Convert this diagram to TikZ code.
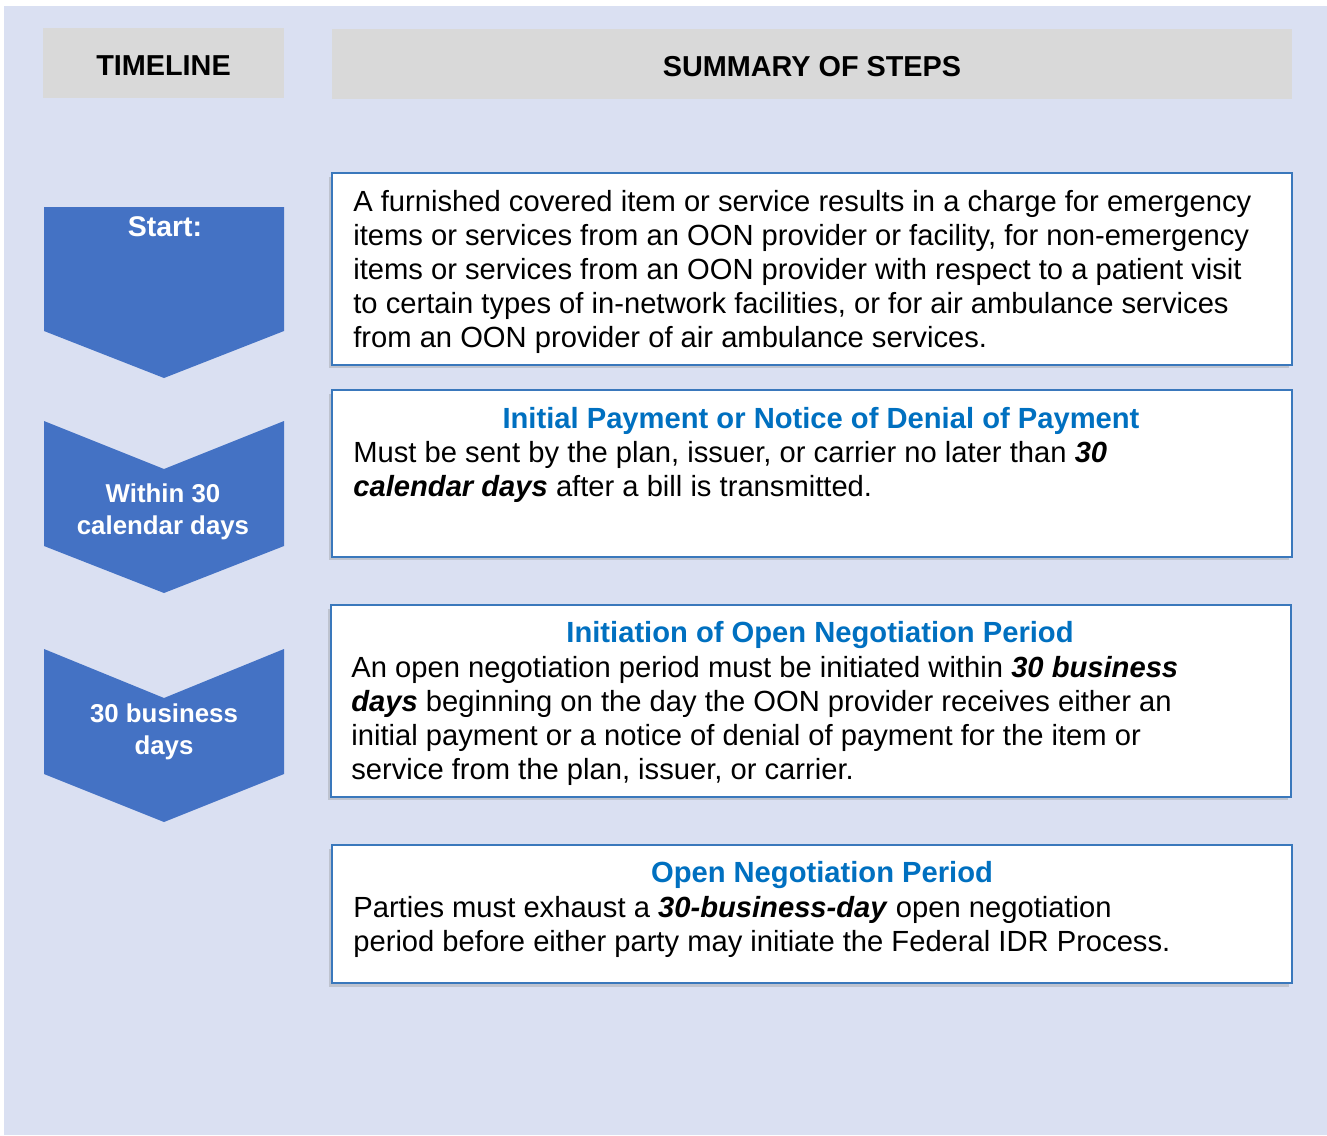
\documentclass[tikz,border=0pt]{standalone}
\usepackage{fontspec}
\setmainfont{Liberation Sans}
\usepackage{xcolor}
\usetikzlibrary{positioning,shadows}

\definecolor{bgblue}{HTML}{DAE0F2}
\definecolor{hdrgray}{HTML}{D9D9D9}
\definecolor{chevblue}{HTML}{4472C4}
\definecolor{boxline}{HTML}{3A78BC}
\definecolor{titleblue}{HTML}{0070C0}

\begin{document}
\begin{tikzpicture}[
    x=0.02cm, y=-0.02cm,
    hdr/.style={rectangle, fill=hdrgray, minimum height=1.4cm, inner sep=0pt,
        text height=0.51cm, text depth=0pt,
        font=\fontsize{16.4}{19}\selectfont\bfseries},
    stepbox/.style={rectangle, draw=boxline, line width=1.1pt, fill=white,
        minimum width=19.2cm, inner sep=0pt,
        drop shadow={shadow xshift=-0.06cm, shadow yshift=-0.07cm, opacity=0.3}},
    chev/.style={fill=chevblue},
    chevtext/.style={align=center, text=white, inner sep=0pt,
        font=\fontsize{14.7}{18.2}\selectfont\bfseries},
    steptitle/.style={text=titleblue, inner sep=0pt,
        font=\fontsize{16.6}{19.4}\selectfont\bfseries},
    stepbody/.style={anchor=west, align=left, inner sep=0pt,
        font=\fontsize{16.6}{19.4}\selectfont}
]
\useasboundingbox (0,0) rectangle (1327,1135);
\fill[bgblue] (4,6) rectangle (1327,1135);

% Headers
\node[hdr, minimum width=4.82cm] (timeline) at (163.5,63) {TIMELINE};
\node[hdr, minimum width=19.2cm] (summary) at (812,64) {SUMMARY OF STEPS};

% Timeline chevrons
\fill[chev] (44,207) -- (284,207) -- (284,331) -- (164,378) -- (44,331) -- cycle;
\node[chevtext, font=\fontsize{16.2}{19}\selectfont\bfseries] (start) at (165,227) {Start:};

\fill[chev] (44,421) -- (164,469) -- (284,421) -- (284,546) -- (164,593) -- (44,546) -- cycle;
\node[chevtext] (within) at (163,512) {Within 30\\calendar days};

\fill[chev] (44,649) -- (164,698) -- (284,649) -- (284,774) -- (164,822) -- (44,774) -- cycle;
\node[chevtext] (business) at (164,732) {30 business\\days};

% Step boxes
\node[stepbox, minimum height=3.84cm] (box1) at (812,269) {};
\node[stepbox, minimum height=3.34cm] (box2) at (812,473.5) {};
\node[stepbox, minimum height=3.84cm] (box3) at (811,701) {};
\node[stepbox, minimum height=2.76cm] (box4) at (812,914) {};

% Step 1
\node[stepbody] (body1) at (353,272) {A furnished covered item or service results in a charge for emergency\\
items or services from an OON provider or facility, for non-emergency\\
items or services from an OON provider with respect to a patient visit\\
to certain types of in-network facilities, or for air ambulance services\\
from an OON provider of air ambulance services.};

% Step 2
\node[steptitle] (title2) at (821,421) {Initial Payment or Notice of Denial of Payment};
\node[stepbody] (body2) at (353,472) {Must be sent by the plan, issuer, or carrier no later than \textbf{\textit{30}}\\
\textbf{\textit{calendar days}} after a bill is transmitted.};

% Step 3
\node[steptitle] (title3) at (820,635) {Initiation of Open Negotiation Period};
\node[stepbody] (body3) at (351,721) {An open negotiation period must be initiated within \textbf{\textit{30 business}}\\
\textbf{\textit{days}} beginning on the day the OON provider receives either an\\
initial payment or a notice of denial of payment for the item or\\
service from the plan, issuer, or carrier.};

% Step 4
\node[steptitle] (title4) at (822,875) {Open Negotiation Period};
\node[stepbody] (body4) at (353,927) {Parties must exhaust a \textbf{\textit{30-business-day}} open negotiation\\
period before either party may initiate the Federal IDR Process.};

\end{tikzpicture}
\end{document}
